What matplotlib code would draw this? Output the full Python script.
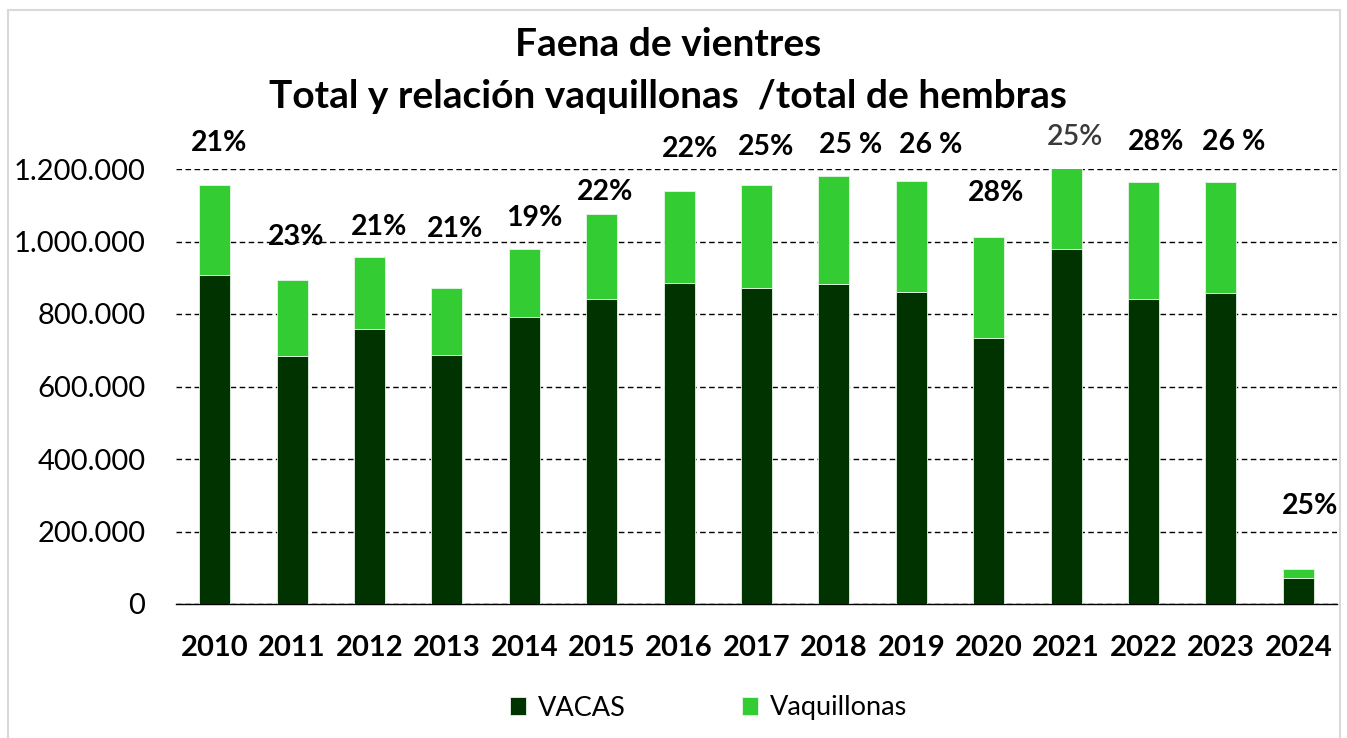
import matplotlib
matplotlib.use("Agg")
import matplotlib.pyplot as plt
from matplotlib.patches import Rectangle
from matplotlib.ticker import FuncFormatter

plt.rcParams['font.family'] = ['Lato', 'DejaVu Sans']

years = ["2010", "2011", "2012", "2013", "2014", "2015", "2016", "2017",
         "2018", "2019", "2020", "2021", "2022", "2023", "2024"]
vacas = [908000, 684000, 759000, 687000, 792000, 841000, 885000, 872000,
         883000, 861000, 734000, 979000, 841000, 858000, 72000]
vaquillonas = [248000, 210000, 198000, 185000, 187000, 235000, 254000, 284000,
               298000, 306000, 278000, 224000, 323000, 306000, 25000]
pct_labels = ["21%", "23%", "21%", "21%", "19%", "22%", "22%", "25%",
              "25 %", "26 %", "28%", "25%", "28%", "26 %", "25%"]
# label anchor heights (data units)
pct_label_y = [1271000, 1012000, 1040000, 1034000, 1065000, 1136000, 1255000,
               1261000, 1266000, 1266000, 1134000, 1288000, 1274000, 1274000, 270000]
pct_label_dx = [0.06, 0.05, 0.13, 0.1, 0.13, 0.04, 0.14, 0.13, 0.21, 0.25,
                0.1, 0.11, 0.16, 0.16, 0.15]

W, H = 1347, 738
fig = plt.figure(figsize=(W / 100, H / 100), dpi=100)
fig.patch.set_facecolor("white")

# outer frame
fig.add_artist(Rectangle((8 / W, -0.01), (1340 - 8) / W, 1 - 10 / H + 0.01,
                         transform=fig.transFigure, fill=False,
                         edgecolor="#d9d9d9", lw=1.5))

ax = fig.add_axes([176 / W, 1 - 604 / H, (1337 - 176) / W, (604 - 169) / H])
x = list(range(len(years)))
dark = "#003300"
light = "#33cc33"
b1 = ax.bar(x, vacas, width=0.4, color=dark, edgecolor="#e6f5e6", linewidth=0.6,
            label="VACAS", zorder=3)
b2 = ax.bar(x, vaquillonas, width=0.4, bottom=vacas, color=light,
            edgecolor="#e6f5e6", linewidth=0.6, label="Vaquillonas", zorder=3)

ax.set_xlim(-0.5, len(years) - 0.5)
ax.set_ylim(0, 1200000)
ax.set_yticks(range(0, 1200001, 200000))
ax.yaxis.set_major_formatter(FuncFormatter(lambda v, p: f"{int(v):,}".replace(",", ".")))
ax.grid(axis="y", linestyle=(0, (4, 2.5)), color="black", linewidth=1, zorder=0)
ax.set_axisbelow(True)
for s in ["top", "right", "left"]:
    ax.spines[s].set_visible(False)
ax.spines["bottom"].set_color("black")
ax.spines["bottom"].set_linewidth(1)
ax.tick_params(axis="y", length=0, labelsize=21, pad=22)
ax.tick_params(axis="x", length=0, labelsize=21, pad=22)
ax.set_xticks(x)
ax.set_xticklabels(years, fontweight="bold")

for i, (lab, yv, dx) in enumerate(zip(pct_labels, pct_label_y, pct_label_dx)):
    col = "#3a3a3a" if years[i] == "2021" else "black"
    wt = "semibold" if years[i] == "2021" else "bold"
    ax.text(i + dx, yv, lab, ha="center", va="center", fontsize=20.5,
            fontweight=wt, color=col, clip_on=False, zorder=5)

fig.text(0.496, 1 - 45 / H, "Faena de vientres", ha="center", va="center",
         fontsize=28, fontweight="bold")
fig.text(0.496, 1 - 96 / H, "Total y relación vaquillonas  /total de hembras",
         ha="center", va="center", fontsize=28, fontweight="bold")

fig.legend(handles=[b1, b2], labels=["VACAS", "Vaquillonas"], loc="center",
           bbox_to_anchor=(0.526, 1 - 708 / H), ncol=2, frameon=False,
           fontsize=19.5, handlelength=0.6, handleheight=0.6, columnspacing=4.3,
           handletextpad=0.42)

fig.savefig("out.png", dpi=100, facecolor="white")
